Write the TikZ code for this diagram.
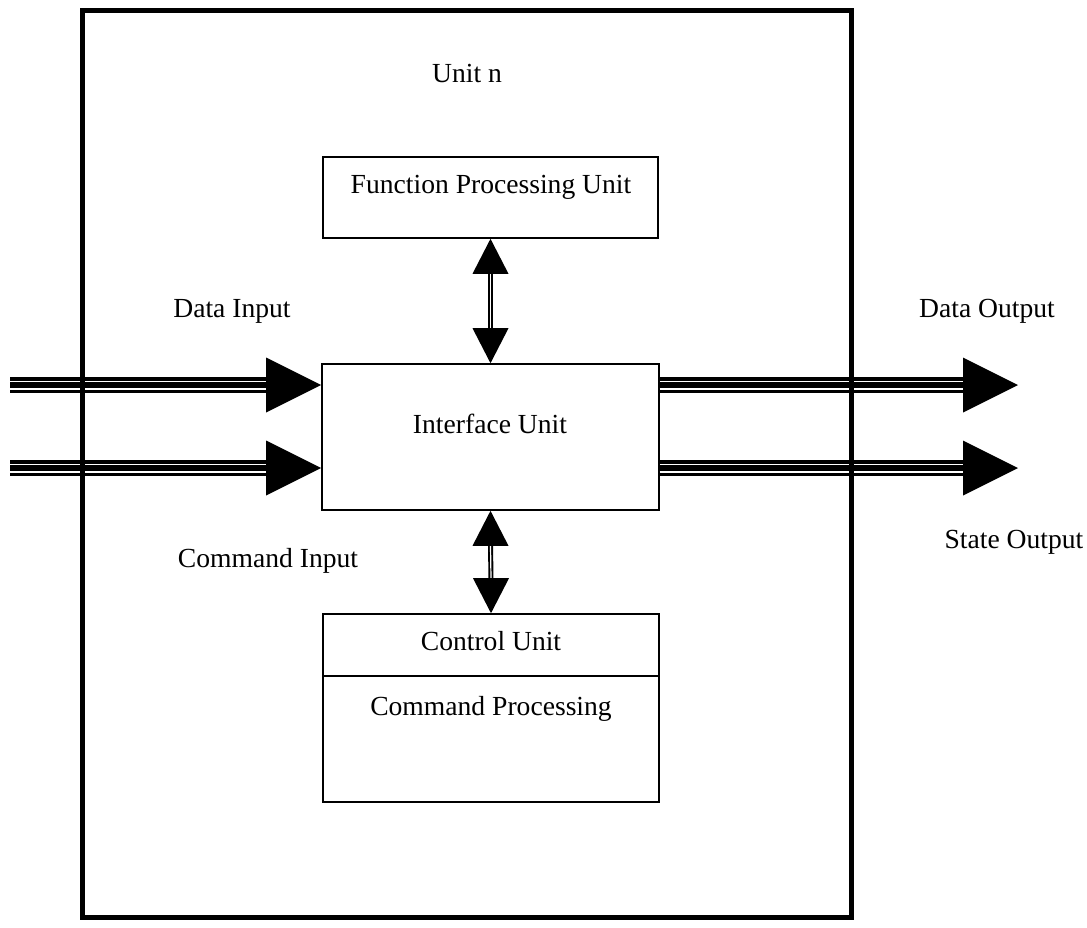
\documentclass[tikz,border=0pt]{standalone}
\usepackage{fontspec}
\setmainfont{Liberation Serif}
\usetikzlibrary{calc}

% wide bus arrow: black band with two white gaps, big triangular head
\newcommand\busarrow[2]{%
  \draw[bus] (#1) -- ($(#2)+(-50,0)$);
  \draw[busgap] ($(#1)+(0,3.75)$) -- ($(#2)+(-55,3.75)$);
  \draw[busgap] ($(#1)+(0,-3.75)$) -- ($(#2)+(-55,-3.75)$);
  \fill (#2) -- ($(#2)+(-55,27.5)$) -- ($(#2)+(-55,-27.5)$) -- cycle;
}
% vertical two-way link between two boxes
\newcommand\linkarrow[2]{%
  \draw[link] ($(#1)+(0,30)$) -- ($(#2)+(0,-30)$);
  \draw[linkgap] ($(#1)+(0,35)$) -- ($(#2)+(0,-35)$);
  \fill (#1) -- ($(#1)+(-18,35)$) -- ($(#1)+(18,35)$) -- cycle;
  \fill (#2) -- ($(#2)+(-18,-35)$) -- ($(#2)+(18,-35)$) -- cycle;
}

\begin{document}
\begin{tikzpicture}[x=1pt,y=-1pt,
    font=\fontsize{27.6}{33}\selectfont,
    box/.style={draw, line width=1.6pt, inner sep=0pt},
    txt/.style={anchor=base, inner sep=0pt},
    bus/.style={line width=16pt},
    busgap/.style={white, line width=1.5pt},
    link/.style={line width=5pt},
    linkgap/.style={white, line width=1.2pt}]
  \useasboundingbox (0,0) rectangle (1087,927);

  % boxes
  \node[box, minimum width=335pt, minimum height=81pt] (fpu) at (490.5,197.5) {};
  \node[box, minimum width=337pt, minimum height=146pt] (iface) at (490.5,437) {};
  \node[box, minimum width=336pt, minimum height=188pt] (ctrl) at (491,708) {};
  \draw[line width=1.6pt] (ctrl.west |- 0,676) -- (ctrl.east |- 0,676);

  % texts
  \node[txt] (unitn) at (467,82) {Unit n};
  \node[txt] (fpulbl) at (491,193) {Function Processing Unit};
  \node[txt] (ifacelbl) at (490,433) {Interface Unit};
  \node[txt] (ctrllbl) at (491,650) {Control Unit};
  \node[txt] (cmdproc) at (491,715) {Command Processing};
  \node[txt] (dinlbl) at (232,317) {Data Input};
  \node[txt] (doutlbl) at (987,317) {Data Output};
  \node[txt] (cinlbl) at (268,567) {Command Input};
  \node[txt] (soutlbl) at (1014,548) {State Output};

  % bus ends
  \coordinate (din) at (10,385);
  \coordinate (cin) at (10,468);
  \coordinate (dout) at (1018,385);
  \coordinate (sout) at (1018,468);
  \coordinate (dinend) at (iface.west |- din);
  \coordinate (cinend) at (iface.west |- cin);
  \coordinate (doutbeg) at (iface.east |- dout);
  \coordinate (soutbeg) at (iface.east |- sout);

  \busarrow{din}{dinend}
  \busarrow{cin}{cinend}
  \busarrow{doutbeg}{dout}
  \busarrow{soutbeg}{sout}

  \linkarrow{fpu.south}{iface.north}
  \linkarrow{iface.south}{ctrl.north}

  % unit frame
  \draw[line width=5pt] (82.5,10) rectangle (851.5,917);
\end{tikzpicture}
\end{document}
